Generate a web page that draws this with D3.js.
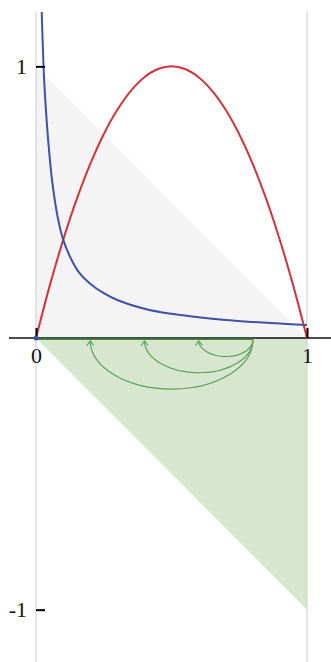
<!DOCTYPE html>
<html>
<head>
<meta charset="utf-8">
<script src="https://cdn.jsdelivr.net/npm/d3@7"></script>
<style>
  html, body { margin: 0; padding: 0; background: #fff; }
  svg { display: block; }
</style>
</head>
<body>
<svg id="chart" width="331" height="662"></svg>
<script>
// Map curve f(x), sampled on [0, 1]
const mapX = [0, 0.05, 0.1, 0.15, 0.2, 0.25, 0.3, 0.35, 0.4, 0.45, 0.5,
              0.55, 0.6, 0.65, 0.7, 0.75, 0.8, 0.85, 0.9, 0.95, 1];
const mapY = [0, 0.19, 0.36, 0.51, 0.64, 0.75, 0.84, 0.91, 0.96, 0.99, 1.0,
              0.99, 0.96, 0.91, 0.84, 0.75, 0.64, 0.51, 0.36, 0.19, 0];

// Decaying curve, steep near the origin
const decayX = [0.021, 0.025, 0.03, 0.04, 0.05, 0.06, 0.08, 0.10, 0.13, 0.16,
                0.20, 0.25, 0.30, 0.40, 0.50, 0.60, 0.70, 0.80, 0.90, 1.00];
const decayY = [1.2, 1.08, 0.95, 0.79, 0.67, 0.575, 0.445, 0.363, 0.29, 0.24,
                0.20, 0.165, 0.14, 0.108, 0.089, 0.076, 0.066, 0.059, 0.053, 0.048];

// Jumps along the unit interval
const jumpFrom = 0.8;
const jumpTo = [0.6, 0.4, 0.2];

// Axis ticks
const xTicks = [0, 1];
const yTicks = [-1, 1];

const svg = d3.select("#chart");
const x = d3.scaleLinear().domain([-0.1, 1.1]).range([8.9, 334.1]);
const y = d3.scaleLinear().domain([-1.2, 1.2]).range([664, 12]);

const colors = {
  grayFill: "#f4f4f4",
  greenFill: "#d9e6cf",
  guide: "#d3d3d3",
  red: "#d2343d",
  blue: "#3f52a6",
  arc: "#5c9f5c",
  segment: "#3b8a3b"
};

svg.append("defs").append("clipPath").attr("id", "plot-clip")
  .append("rect")
  .attr("x", 0).attr("y", y(1.2))
  .attr("width", 331).attr("height", y(-1.2) - y(1.2));

// Region under the anti-diagonal
svg.append("path")
  .attr("d", d3.line()([[x(0), y(0)], [x(0), y(1)], [x(1), y(0)]]) + "Z")
  .attr("fill", colors.grayFill);

// Region below the axis
svg.append("path")
  .attr("d", d3.line()([[x(0), y(0)], [x(1), y(0)], [x(1), y(-1)]]) + "Z")
  .attr("fill", colors.greenFill);

// Vertical guides at x = 0 and x = 1
svg.selectAll("line.guide")
  .data(xTicks)
  .join("line")
  .attr("class", "guide")
  .attr("x1", d => x(d)).attr("x2", d => x(d))
  .attr("y1", y(1.2)).attr("y2", 662)
  .attr("stroke", colors.guide)
  .attr("stroke-width", 1.2);

// Horizontal axis line
svg.append("line")
  .attr("x1", x(-0.1)).attr("x2", x(1.09))
  .attr("y1", y(0)).attr("y2", y(0))
  .attr("stroke", "#111")
  .attr("stroke-width", 1.5);

// Segment [0, jumpFrom] on the axis
svg.append("line")
  .attr("x1", x(0)).attr("x2", x(jumpFrom))
  .attr("y1", y(0) + 1.2).attr("y2", y(0) + 1.2)
  .attr("stroke", colors.segment)
  .attr("stroke-width", 1.6);

// Arrow marker for the jumps
svg.select("defs").append("marker")
  .attr("id", "arrow")
  .attr("viewBox", "-6 -5 8 10")
  .attr("refX", 0).attr("refY", 0)
  .attr("markerWidth", 8).attr("markerHeight", 10)
  .attr("markerUnits", "userSpaceOnUse")
  .attr("orient", "auto")
  .append("path")
  .attr("d", "M-4.5,-3.5L0,0L-4.5,3.5")
  .attr("fill", "none")
  .attr("stroke", colors.arc)
  .attr("stroke-width", 1.1);

// Jump arcs below the axis
svg.selectAll("path.jump")
  .data(jumpTo)
  .join("path")
  .attr("class", "jump")
  .attr("d", d => {
    const x1 = x(jumpFrom), x2 = x(d);
    const rx = (x1 - x2) / 2, ry = rx * 0.6;
    return `M${x1},${y(0) + 1.5}A${rx},${ry} 0 0 1 ${x2},${y(0) + 3}`;
  })
  .attr("fill", "none")
  .attr("stroke", colors.arc)
  .attr("stroke-width", 1.2)
  .attr("marker-end", "url(#arrow)");

const line = d3.line()
  .x(d => x(d[0]))
  .y(d => y(d[1]))
  .curve(d3.curveCatmullRom.alpha(0.5));

// Map curve
svg.append("path")
  .datum(mapX.map((v, i) => [v, mapY[i]]))
  .attr("d", line)
  .attr("fill", "none")
  .attr("stroke", colors.red)
  .attr("stroke-width", 2);

// Decaying curve
svg.append("path")
  .datum(decayX.map((v, i) => [v, decayY[i]]))
  .attr("d", line)
  .attr("clip-path", "url(#plot-clip)")
  .attr("fill", "none")
  .attr("stroke", colors.blue)
  .attr("stroke-width", 2);

// Axes with ticks only
const font = "'Liberation Serif', 'DejaVu Serif', serif";
const plain = d => String(d);

const gx = svg.append("g")
  .attr("transform", `translate(0,${y(0)})`)
  .call(d3.axisBottom(x).tickValues(xTicks).tickFormat(plain)
    .tickSizeInner(-10).tickSizeOuter(0).tickPadding(9));
gx.select(".domain").remove();

const gy = svg.append("g")
  .attr("transform", `translate(${x(0)},0)`)
  .call(d3.axisLeft(y).tickValues(yTicks).tickFormat(plain)
    .tickSizeInner(-9).tickSizeOuter(0).tickPadding(9));
gy.select(".domain").remove();

svg.selectAll(".tick line").attr("stroke", "#000").attr("stroke-width", 2);
svg.selectAll(".tick text")
  .attr("fill", "#111")
  .style("font-family", font)
  .style("font-size", "22px");

// Origin point
svg.append("circle")
  .attr("cx", x(0)).attr("cy", y(0))
  .attr("r", 2.5)
  .attr("fill", colors.blue);
</script>
</body>
</html>
